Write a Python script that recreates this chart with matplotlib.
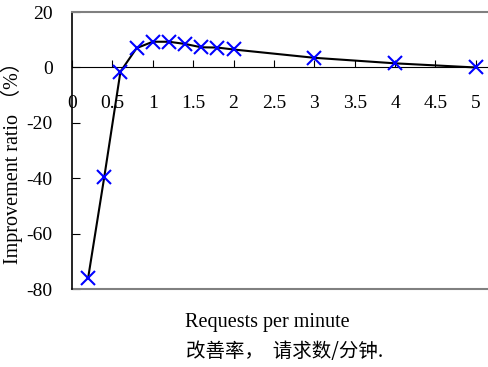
import matplotlib
matplotlib.use("Agg")
import matplotlib.pyplot as plt

plt.rcParams["axes.unicode_minus"] = False

# -------------------------------
# Data
# -------------------------------
requests = [0.2, 0.4, 0.6, 0.8, 1.0, 1.2, 1.4, 1.6, 1.8, 2.0, 3.0, 4.0, 5.0]
ratio = [-76, -39.5, -1.5, 7, 9.3, 9.3, 8.5, 7.3, 7.2, 6.5, 3.5, 1.5, 0]

x_ticks = [0, 0.5, 1, 1.5, 2, 2.5, 3, 3.5, 4, 4.5, 5]
x_tick_labels = ["0", "0.5", "1", "1.5", "2", "2.5", "3", "3.5", "4", "4.5", "5"]
y_ticks = [-80, -60, -40, -20, 0, 20]

serif = ["Liberation Serif", "DejaVu Serif"]
cjk = ["Noto Sans CJK SC", "DejaVu Sans"]

# -------------------------------
# Plot
# -------------------------------
fig = plt.figure(figsize=(4.88, 3.67), dpi=100)
ax = fig.add_axes([0.1475, 0.2125, 0.8525, 0.7545])

ax.plot(requests, ratio, color="black", lw=1.5, zorder=2)
ax.plot(requests, ratio, ls="none", marker="x", ms=10, mew=1.5,
        color="#0000ff", zorder=3, clip_on=False)

ax.set_xlim(0, 5.15)
ax.set_ylim(-80, 20)

# x axis drawn through zero
ax.spines["bottom"].set_position(("data", 0))
ax.spines["bottom"].set_color("black")
ax.spines["right"].set_visible(False)
ax.spines["top"].set_color("#808080")
ax.spines["top"].set_linewidth(1.5)
ax.spines["left"].set_linewidth(1.2)
# bottom frame line
ax.plot([0, 1], [0, 0], transform=ax.transAxes, color="#808080",
        lw=1.5, clip_on=False)

ax.set_xticks(x_ticks)
ax.set_xticklabels(x_tick_labels)
ax.set_yticks(y_ticks)
ax.tick_params(axis="x", direction="in", length=5, pad=20, labelsize=14)
ax.tick_params(axis="y", direction="in", length=6, pad=14, labelsize=14)
for lbl in ax.get_xticklabels() + ax.get_yticklabels():
    lbl.set_family(serif)

ax.set_ylabel("Improvement ratio （%）",
              family=["Liberation Serif", "Noto Sans CJK SC"], fontsize=14.5)
ax.yaxis.set_label_coords(-0.118, 0.473)

fig.text(267 / 488, 1 - 322 / 367, "Requests per minute", family=serif,
         fontsize=14.5, ha="center", va="center")
fig.text(285 / 488, 1 - 352 / 367, "改善率，  请求数/分钟.", family=cjk,
         fontsize=14, ha="center", va="center")

fig.savefig("out.png", dpi=100)
